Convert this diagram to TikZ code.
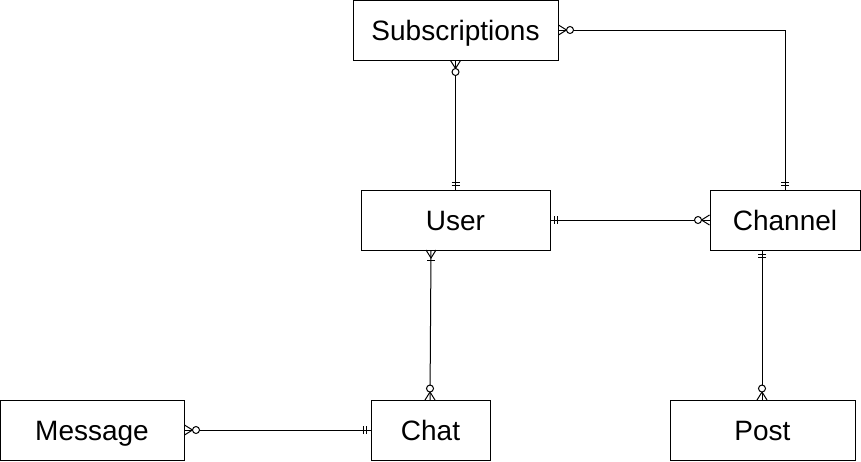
\documentclass[tikz,border=0pt]{standalone}
\usepackage{fontspec}
\setmainfont{Liberation Sans}
\begin{document}
\begin{tikzpicture}[x=1pt,y=-1pt,line width=1pt,
  entity/.style={draw,line width=1pt,minimum width=#1,minimum height=60pt,inner sep=0pt,text height=21pt,text depth=0pt,font=\fontsize{28}{30}\selectfont},
  rel/.style={draw,line width=1pt},
  mandone/.pic={\draw[line width=1pt] (4,-4)--(4,4) (7,-4)--(7,4);},
  zeromany/.pic={\draw[line width=1pt] (0,-5)--(8,0)--(0,5); \draw[line width=1pt,fill=white] (11.5,0) circle (3.5);},
  onemany/.pic={\draw[line width=1pt] (0,-5)--(8,0)--(0,5); \draw[line width=1pt] (10,-4)--(10,4);}
]
\useasboundingbox (0,0) rectangle (861,461);
\node[entity=205pt] (sub) at (455.5,30) {Subscriptions};
\node[entity=189pt] (user) at (455.5,220) {User};
\node[entity=150pt] (chan) at (785,220) {Channel};
\node[entity=184pt] (msg) at (92,430) {Message};
\node[entity=119pt] (chat) at (430.5,430) {Chat};
\node[entity=185pt] (post) at (762.5,430) {Post};

% Subscriptions -- User
\draw[rel] (sub.south) -- (user.north);
\pic[rotate=-90] at (sub.south) {zeromany};
\pic[rotate=90] at (user.north) {mandone};
% Subscriptions -- Channel
\coordinate (c1) at (785,30);
\draw[rel] (sub.east) -- (c1) -- (chan.north);
\pic at (sub.east) {zeromany};
\pic[rotate=90] at (chan.north) {mandone};
% User -- Channel
\draw[rel] (user.east) -- (chan.west);
\pic at (user.east) {mandone};
\pic[rotate=180] at (chan.west) {zeromany};
% User -- Chat
\coordinate (u1) at (431,250);
\coordinate (h1) at (430,400);
\draw[rel] (u1) -- (h1);
\pic[rotate=-90] at (u1) {onemany};
\pic[rotate=90] at (h1) {zeromany};
% Message -- Chat
\draw[rel] (msg.east) -- (chat.west);
\pic at (msg.east) {zeromany};
\pic[rotate=180] at (chat.west) {mandone};
% Channel -- Post
\coordinate (c2) at (762,250);
\coordinate (p1) at (762,400);
\draw[rel] (c2) -- (p1);
\pic[rotate=-90] at (c2) {mandone};
\pic[rotate=90] at (p1) {zeromany};
\end{tikzpicture}
\end{document}
